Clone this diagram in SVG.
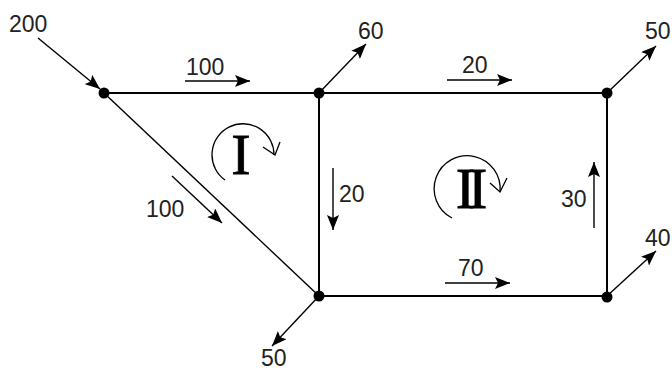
<svg xmlns="http://www.w3.org/2000/svg" width="672" height="370" viewBox="0 0 672 370">
<style>
.edge{stroke:#000;stroke-width:2;fill:none}
.diag{stroke:#000;stroke-width:1.4;fill:none}
.flow{stroke:#000;stroke-width:1.4;fill:none;marker-end:url(#ah)}
.loop{stroke:#000;stroke-width:1.3;fill:none}
.lbl{font-family:"Liberation Sans",Arial,sans-serif;font-size:23px;fill:#222}
.roman{font-family:"Liberation Serif","Times New Roman",serif;font-size:58px;fill:#000}
.node{fill:#000}
</style>
<defs>
<marker id="ah" markerUnits="userSpaceOnUse" markerWidth="16" markerHeight="12" refX="15" refY="6" orient="auto">
<path d="M0,0 L15,6 L0,12 L3,6 z" fill="#000"/>
</marker>
</defs>
<rect width="672" height="370" fill="#fff"/>
<g id="connectors">
<line class="edge" x1="104" y1="93" x2="607" y2="93"/>
<line class="edge" x1="319" y1="93" x2="319" y2="296"/>
<line class="edge" x1="607" y1="93" x2="607" y2="296"/>
<line class="edge" x1="319" y1="296" x2="607" y2="296"/>
<line class="diag" x1="104" y1="93" x2="319" y2="296"/>
<line class="flow" x1="38" y1="38" x2="100" y2="89"/>
<line class="flow" x1="319" y1="93" x2="366" y2="44"/>
<line class="flow" x1="607" y1="93" x2="656" y2="46"/>
<line class="flow" x1="607" y1="296" x2="656" y2="251"/>
<line class="flow" x1="319" y1="296" x2="272" y2="346"/>
<line class="flow" x1="185" y1="81" x2="250" y2="81"/>
<line class="flow" x1="447" y1="80" x2="512" y2="80"/>
<line class="flow" x1="333" y1="168" x2="333" y2="230"/>
<line class="flow" x1="594" y1="228" x2="594" y2="162"/>
<line class="flow" x1="172" y1="176" x2="222" y2="223"/>
<line class="flow" x1="445" y1="283" x2="510" y2="283"/>
<text class="lbl" x="9" y="32">200</text>
<text class="lbl" x="186" y="75">100</text>
<text class="lbl" x="358" y="39">60</text>
<text class="lbl" x="462" y="73">20</text>
<text class="lbl" x="645" y="39">50</text>
<text class="lbl" x="339" y="202">20</text>
<text class="lbl" x="561" y="207">30</text>
<text class="lbl" x="146" y="217">100</text>
<text class="lbl" x="458" y="276">70</text>
<text class="lbl" x="645" y="246">40</text>
<text class="lbl" x="261" y="366">50</text>
</g>
<g id="loop-I">
<path class="loop" d="M225,180 A31,31 0 1 1 274,155"/>
<path class="loop" d="M263,147 L275,155 L280,142"/>
<text class="roman" x="241" y="174" text-anchor="middle" stroke="#000" stroke-width="0.8">I</text>
</g>
<g id="loop-II">
<path class="loop" d="M452,218 A33,33 0 1 1 500,192"/>
<path class="loop" d="M490,183 L500,192 L507,178"/>
<text class="roman" x="468" y="208" text-anchor="middle" letter-spacing="-7" stroke="#000" stroke-width="0.8">II</text>
</g>
<g id="node-A"><circle class="node" cx="104" cy="93" r="5.5"/></g>
<g id="node-B"><circle class="node" cx="319" cy="93" r="5.5"/></g>
<g id="node-C"><circle class="node" cx="607" cy="93" r="5.5"/></g>
<g id="node-D"><circle class="node" cx="319" cy="296" r="5.5"/></g>
<g id="node-E"><circle class="node" cx="607" cy="297" r="5.5"/></g>
</svg>
